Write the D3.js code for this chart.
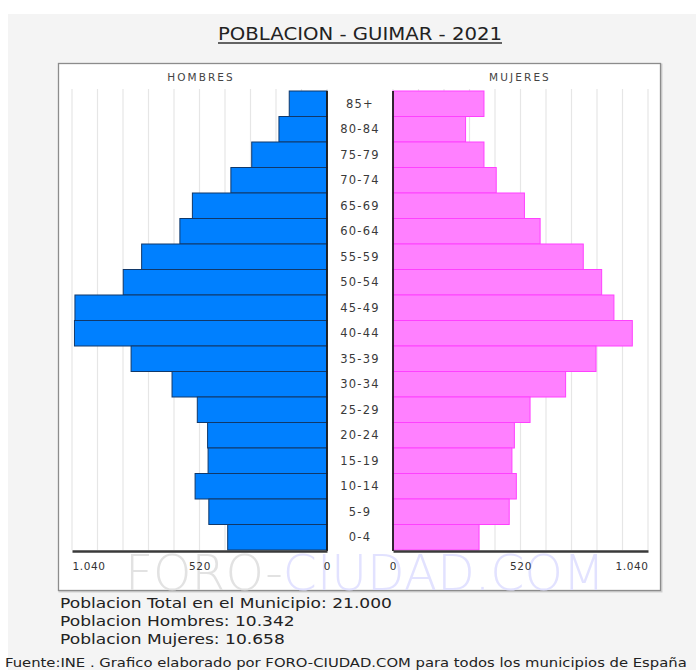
<!DOCTYPE html>
<html><head><meta charset="utf-8">
<script src="https://cdn.jsdelivr.net/npm/d3@7"></script>
<style>
html,body{margin:0;padding:0;background:#fff;}
svg{display:block;}
</style></head>
<body>
<script>
// ---- data ----
const ageGroups = ["85+","80-84","75-79","70-74","65-69","60-64","55-59","50-54","45-49","40-44","35-39","30-34","25-29","20-24","15-19","10-14","5-9","0-4"];
const hombres = [154,196,307,392,549,600,756,831,1028,1030,799,632,529,487,485,538,482,405];
const mujeres = [371,296,371,421,536,600,776,851,901,976,828,704,559,495,485,503,474,351];
const tickValues = [0,520,1040];
const gridValues = [0,104,208,312,416,520,624,728,832,936,1040];
const titleText = "POBLACION - GUIMAR - 2021";
const summaryLines = ["Poblacion Total en el Municipio: 21.000","Poblacion Hombres: 10.342","Poblacion Mujeres: 10.658"];
const sourceText = "Fuente:INE . Grafico elaborado por FORO-CIUDAD.COM para todos los municipios de España";

const W = 696, H = 670;
const svg = d3.select("body").append("svg").attr("width", W).attr("height", H);

// page background
svg.append("rect").attr("x",8).attr("y",14).attr("width",W-8).attr("height",H-14).attr("fill","#f4f4f4");

// title
svg.append("text").attr("x",360).attr("y",40).attr("text-anchor","middle")
  .attr("font-family","'DejaVu Sans Condensed','DejaVu Sans',sans-serif").attr("font-size",18)
  .attr("fill","#222").attr("textLength",284).attr("lengthAdjust","spacingAndGlyphs")
  .text(titleText);
svg.append("line").attr("x1",218).attr("x2",502).attr("y1",43).attr("y2",43)
  .attr("stroke","#333").attr("stroke-width",1.3);

// chart frame
svg.append("rect").attr("x",59.5).attr("y",64.5).attr("width",602).attr("height",527)
  .attr("fill","none").attr("stroke","#cfcfcf").attr("stroke-width",2);
svg.append("rect").attr("x",58.5).attr("y",63.5).attr("width",602).attr("height",527)
  .attr("fill","#fff").attr("stroke","#8c8c8c").attr("stroke-width",1.3);

// scales
const y = d3.scaleBand().domain(ageGroups).range([91,550]).padding(0);
const xL = d3.scaleLinear().domain([0,1040]).range([327,72]);
const xR = d3.scaleLinear().domain([0,1040]).range([393,648]);

// gridlines
const g = svg.append("g");
g.selectAll("line.gl").data(gridValues).join("line")
  .attr("x1",d=>xL(d)).attr("x2",d=>xL(d)).attr("y1",89).attr("y2",550)
  .attr("stroke","#e6e6e6").attr("stroke-width",1.2);
g.selectAll("line.gr").data(gridValues).join("line")
  .attr("x1",d=>xR(d)).attr("x2",d=>xR(d)).attr("y1",89).attr("y2",550)
  .attr("stroke","#e6e6e6").attr("stroke-width",1.2);

// headers
svg.append("text").attr("x",201).attr("y",81).attr("text-anchor","middle")
  .attr("font-family","'DejaVu Sans',sans-serif").attr("font-size",10.5).attr("letter-spacing",2.1)
  .attr("fill","#444").text("HOMBRES");
svg.append("text").attr("x",520).attr("y",81).attr("text-anchor","middle")
  .attr("font-family","'DejaVu Sans',sans-serif").attr("font-size",10.5).attr("letter-spacing",2.1)
  .attr("fill","#444").text("MUJERES");

// watermark
const wm = svg.append("text").attr("x",125).attr("y",590)
  .attr("font-family","'DejaVu Sans',sans-serif").attr("font-weight",200).attr("font-size",50)
  .attr("textLength",480).attr("lengthAdjust","spacingAndGlyphs");
wm.append("tspan").attr("fill","#e2e2e2").text("FORO-");
wm.append("tspan").attr("fill","#e2e2ff").text("CIUDAD.COM");

// bars
svg.append("g").selectAll("rect").data(ageGroups).join("rect")
  .attr("x",(d,i)=>xL(hombres[i])).attr("y",d=>y(d))
  .attr("width",(d,i)=>xL(0)-xL(hombres[i])).attr("height",y.bandwidth())
  .attr("fill","#0080ff").attr("stroke","#10386a").attr("stroke-width",1);
svg.append("g").selectAll("rect").data(ageGroups).join("rect")
  .attr("x",xR(0)).attr("y",d=>y(d))
  .attr("width",(d,i)=>xR(mujeres[i])-xR(0)).attr("height",y.bandwidth())
  .attr("fill","#ff80ff").attr("stroke","#ff40ff").attr("stroke-width",1);

// center vertical lines
svg.append("line").attr("x1",xL(0)).attr("x2",xL(0)).attr("y1",91).attr("y2",551).attr("stroke","#1a1a1a").attr("stroke-width",1.8);
svg.append("line").attr("x1",xR(0)).attr("x2",xR(0)).attr("y1",91).attr("y2",551).attr("stroke","#1a1a1a").attr("stroke-width",1.8);

// age labels
svg.append("g").selectAll("text").data(ageGroups).join("text")
  .attr("x",360).attr("y",d=>y(d)+y.bandwidth()/2).attr("dy","0.36em")
  .attr("text-anchor","middle").attr("font-family","'DejaVu Sans',sans-serif")
  .attr("font-size",11.5).attr("letter-spacing",1.2).attr("fill","#3a3a3a").text(d=>d);

// axes
const loc = d3.formatLocale({decimal:",",thousands:".",grouping:[3],currency:["","€"]});
const fmt = loc.format(",d");
function styleAxis(sel, side){
  sel.select(".domain").attr("stroke","#3a3a3a").attr("stroke-width",2.4);
  sel.selectAll(".tick text").attr("font-family","'DejaVu Sans',sans-serif").attr("font-size",10.5)
    .attr("fill","#333").attr("letter-spacing",0.6)
    .attr("text-anchor",d=> (d===1040 ? (side==="L"?"start":"end") : "middle"));
}
const axL = svg.append("g").attr("transform","translate(0,551)")
  .call(d3.axisBottom(xL).tickValues(tickValues).tickFormat(fmt).tickSize(0).tickPadding(12).tickSizeOuter(0));
styleAxis(axL,"L");
const axR = svg.append("g").attr("transform","translate(0,551)")
  .call(d3.axisBottom(xR).tickValues(tickValues).tickFormat(fmt).tickSize(0).tickPadding(12).tickSizeOuter(0));
styleAxis(axR,"R");

// summary (horizontally stretched like the reference rendering)
svg.append("g").attr("transform","translate(60,0) scale(1.22,1)")
  .selectAll("text").data(summaryLines).join("text")
  .attr("x",0).attr("y",(d,i)=>608+i*18)
  .attr("font-family","'DejaVu Sans',sans-serif").attr("font-size",14).attr("fill","#222").text(d=>d);

svg.append("g").attr("transform","translate(5,0) scale(1.185,1)")
  .append("text").attr("x",0).attr("y",667)
  .attr("font-family","'DejaVu Sans',sans-serif").attr("font-size",12.5).attr("fill","#222").text(sourceText);
</script>
</body></html>
